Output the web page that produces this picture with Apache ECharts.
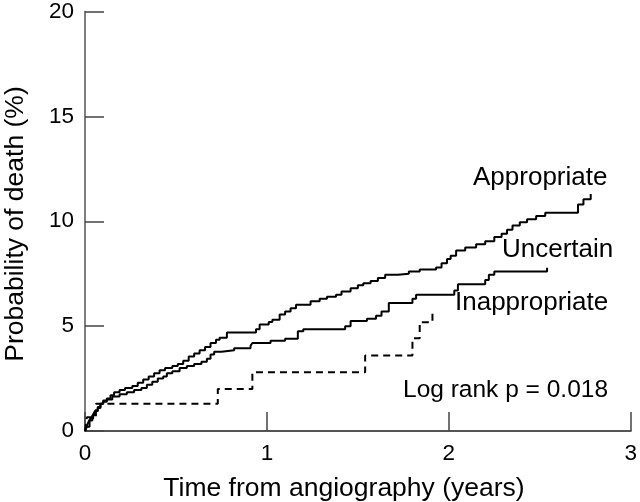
<!DOCTYPE html>
<html>
<head>
<meta charset="utf-8">
<script src="https://cdn.jsdelivr.net/npm/echarts@6/dist/echarts.min.js"></script>
<style>
html,body{margin:0;padding:0;background:#fff;}
#chart{width:640px;height:502px;}
</style>
</head>
<body>
<div id="chart"></div>
<script>
// Step points: [time (years), probability of death (%)]
var appropriate = [
  [0,0],[0.01,0.25],[0.02,0.45],[0.03,0.6],[0.045,0.8],[0.055,0.95],[0.07,1.1],[0.085,1.3],
  [0.1,1.45],[0.12,1.55],[0.14,1.7],[0.16,1.85],[0.19,1.95],[0.22,2.05],[0.26,2.15],[0.29,2.3],
  [0.32,2.45],[0.35,2.6],[0.38,2.75],[0.41,2.9],[0.44,3.0],[0.48,3.1],[0.51,3.2],[0.54,3.35],
  [0.57,3.55],[0.6,3.7],[0.63,3.85],[0.66,4.0],[0.69,4.2],[0.72,4.35],[0.74,4.45],[0.78,4.7],
  [0.94,4.85],[0.96,5.08],[1.01,5.2],[1.03,5.3],[1.07,5.55],[1.1,5.7],[1.13,5.85],[1.16,6.02],
  [1.24,6.18],[1.29,6.3],[1.33,6.4],[1.38,6.5],[1.41,6.65],[1.46,6.8],[1.5,6.95],[1.53,7.05],
  [1.57,7.15],[1.61,7.3],[1.65,7.45],[1.72,7.5],[1.78,7.6],[1.84,7.7],[1.93,7.8],[1.96,8.0],
  [1.99,8.2],[2.01,8.35],[2.04,8.6],[2.09,8.75],[2.15,8.9],[2.2,9.05],[2.25,9.25],[2.29,9.4],
  [2.32,9.6],[2.35,9.8],[2.39,9.95],[2.43,10.1],[2.48,10.25],[2.53,10.4],[2.71,10.8],
  [2.74,11.05],[2.78,11.3]
];
var uncertain = [
  [0,0],[0.01,0.2],[0.025,0.5],[0.04,0.75],[0.055,0.95],[0.07,1.15],[0.085,1.3],[0.1,1.4],
  [0.12,1.5],[0.15,1.65],[0.19,1.75],[0.23,1.85],[0.27,1.95],[0.31,2.05],[0.34,2.2],[0.37,2.35],
  [0.4,2.5],[0.43,2.6],[0.45,2.75],[0.48,2.85],[0.52,3.0],[0.56,3.1],[0.6,3.2],[0.64,3.3],
  [0.67,3.45],[0.69,3.65],[0.71,3.78],[0.75,3.85],[0.82,3.95],[0.91,4.06],[0.92,4.2],
  [1.02,4.3],[1.1,4.4],[1.17,4.75],[1.2,4.85],[1.43,5.0],[1.46,5.25],[1.55,5.35],[1.6,5.5],
  [1.63,5.7],[1.67,6.1],[1.8,6.3],[1.82,6.5],[2.03,6.7],[2.05,7.0],[2.2,7.2],[2.22,7.45],
  [2.25,7.6],[2.54,7.78]
];
var inappropriate = [
  [0,0],[0.01,0.65],[0.06,1.3],[0.73,2.0],[0.92,2.8],[1.54,3.6],[1.80,4.42],[1.84,5.19],[1.91,5.8]
];
var xTicks = [0, 1, 2, 3];
var yTicks = [0, 5, 10, 15, 20];
var seriesNames = ['Appropriate', 'Uncertain', 'Inappropriate'];
var xTitle = 'Time from angiography (years)';
var yTitle = 'Probability of death (%)';
var note = 'Log rank p = 0.018';

var FONT = '"Liberation Sans", Arial, Helvetica, sans-serif';
var chart = echarts.init(document.getElementById('chart'), null, {renderer: 'canvas'});

function lineSeries(name, data, dashed) {
  return {
    name: name, type: 'line', step: 'end', data: data,
    showSymbol: false, symbol: 'none', silent: true, animation: false,
    lineStyle: {color: '#000', width: 2, type: dashed ? [7, 5] : 'solid'}
  };
}

function txt(text, x, y, align, size, rot) {
  return {
    type: 'text', x: x, y: y, rotation: rot || 0,
    style: {text: text, font: size + 'px ' + FONT, fill: '#000', align: align, verticalAlign: 'middle'}
  };
}

chart.setOption({
  animation: false,
  backgroundColor: '#fff',
  grid: {left: 85, right: 9, top: 7, bottom: 71},
  xAxis: {
    type: 'value', min: xTicks[0], max: xTicks[xTicks.length - 1], interval: 1,
    axisLine: {lineStyle: {color: '#555', width: 2}},
    axisTick: {inside: true, length: 19, lineStyle: {color: '#444', width: 1.5}},
    axisLabel: {fontSize: 22.5, color: '#000', fontFamily: FONT, margin: 11},
    splitLine: {show: false}
  },
  yAxis: {
    type: 'value', min: yTicks[0], max: yTicks[yTicks.length - 1], interval: 5,
    axisLine: {show: true, lineStyle: {color: '#555', width: 1.5}},
    axisTick: {show: true, inside: true, length: 19, lineStyle: {color: '#444', width: 1.5}},
    axisLabel: {fontSize: 22.5, color: '#000', fontFamily: FONT, margin: 11},
    splitLine: {show: false}
  },
  series: [
    lineSeries(seriesNames[0], appropriate, false),
    lineSeries(seriesNames[1], uncertain, false),
    lineSeries(seriesNames[2], inappropriate, true)
  ],
  graphic: [
    txt(seriesNames[0], 473, 178, 'left', 26),
    txt(seriesNames[1], 502, 250, 'left', 26),
    txt(seriesNames[2], 455, 303, 'left', 26),
    txt(note, 403, 390, 'left', 24.5),
    txt(xTitle, 344, 489, 'center', 26.5),
    txt(yTitle, 16, 224, 'center', 26.5, Math.PI / 2)
  ]
});
</script>
</body>
</html>
